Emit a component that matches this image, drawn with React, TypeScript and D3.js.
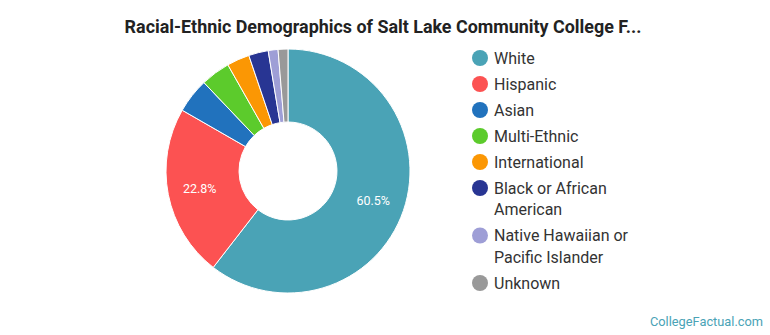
import React from "react";
import * as d3 from "d3";

const categories = [
  "White",
  "Hispanic",
  "Asian",
  "Multi-Ethnic",
  "International",
  "Black or African American",
  "Native Hawaiian or Pacific Islander",
  "Unknown",
];
const values = [60.5, 22.8, 4.6, 3.9, 3.0, 2.6, 1.3, 1.3];
const colors = [
  "#4aa3b6",
  "#fc5252",
  "#2172bd",
  "#5ccb2c",
  "#fb9704",
  "#283593",
  "#9e9ed6",
  "#999999",
];
const legendLines = [
  ["White"],
  ["Hispanic"],
  ["Asian"],
  ["Multi-Ethnic"],
  ["International"],
  ["Black or African", "American"],
  ["Native Hawaiian or", "Pacific Islander"],
  ["Unknown"],
];
const title = "Racial-Ethnic Demographics of Salt Lake Community College F...";
const credit = "CollegeFactual.com";

const W = 770;
const H = 335;
const cx = 288;
const cy = 171;
const outerR = 122;
const innerR = 49;
const labelR = 90;

export default function App() {
  const data = categories.map((c, i) => ({ c, v: values[i], color: colors[i] }));
  const pie = d3
    .pie<any>()
    .value((d) => d.v)
    .sort(null)
    .startAngle(0)
    .endAngle(2 * Math.PI);
  const arcs = pie(data);
  const arc = d3.arc<any>().innerRadius(innerR).outerRadius(outerR);
  const labelArc = d3.arc<any>().innerRadius(labelR).outerRadius(labelR);

  let y = 58;
  const legendItems = legendLines.map((lines, i) => {
    const item = { lines, y, color: colors[i] };
    y += 26 + (lines.length - 1) * 21.5;
    return item;
  });

  const font = "Roboto, 'Noto Sans', sans-serif";

  return (
    <svg
      width={W}
      height={H}
      style={{ position: "absolute", left: 0, top: 0, background: "#fff" }}
      fontFamily={font}
    >
      <text
        x={383}
        y={33}
        textAnchor="middle"
        fontSize={17.9}
        fontWeight="bold"
        fill="#222"
      >
        {title}
      </text>
      <g transform={`translate(${cx},${cy})`}>
        {arcs.map((a, i) => (
          <path key={i} d={arc(a) as string} fill={a.data.color} stroke="#fff" strokeWidth={1} />
        ))}
        {arcs.map((a, i) => {
          if (a.data.v < 10) return null;
          const [lx, ly] = labelArc.centroid(a);
          return (
            <text
              key={"l" + i}
              x={lx}
              y={ly}
              dy="0.35em"
              textAnchor="middle"
              fontSize={12.5}
              fill="#fff"
            >
              {a.data.v.toFixed(1) + "%"}
            </text>
          );
        })}
      </g>
      <g>
        {legendItems.map((it, i) => (
          <g key={i}>
            <circle cx={480} cy={it.y} r={8} fill={it.color} />
            {it.lines.map((ln, j) => (
              <text
                key={j}
                x={494}
                y={it.y + j * 21.5}
                dy="0.35em"
                fontSize={16}
                fill="#333"
              >
                {ln}
              </text>
            ))}
          </g>
        ))}
      </g>
      <text x={763} y={326} textAnchor="end" fontSize={12.8} fill="#4aa3b6">
        {credit}
      </text>
    </svg>
  );
}
